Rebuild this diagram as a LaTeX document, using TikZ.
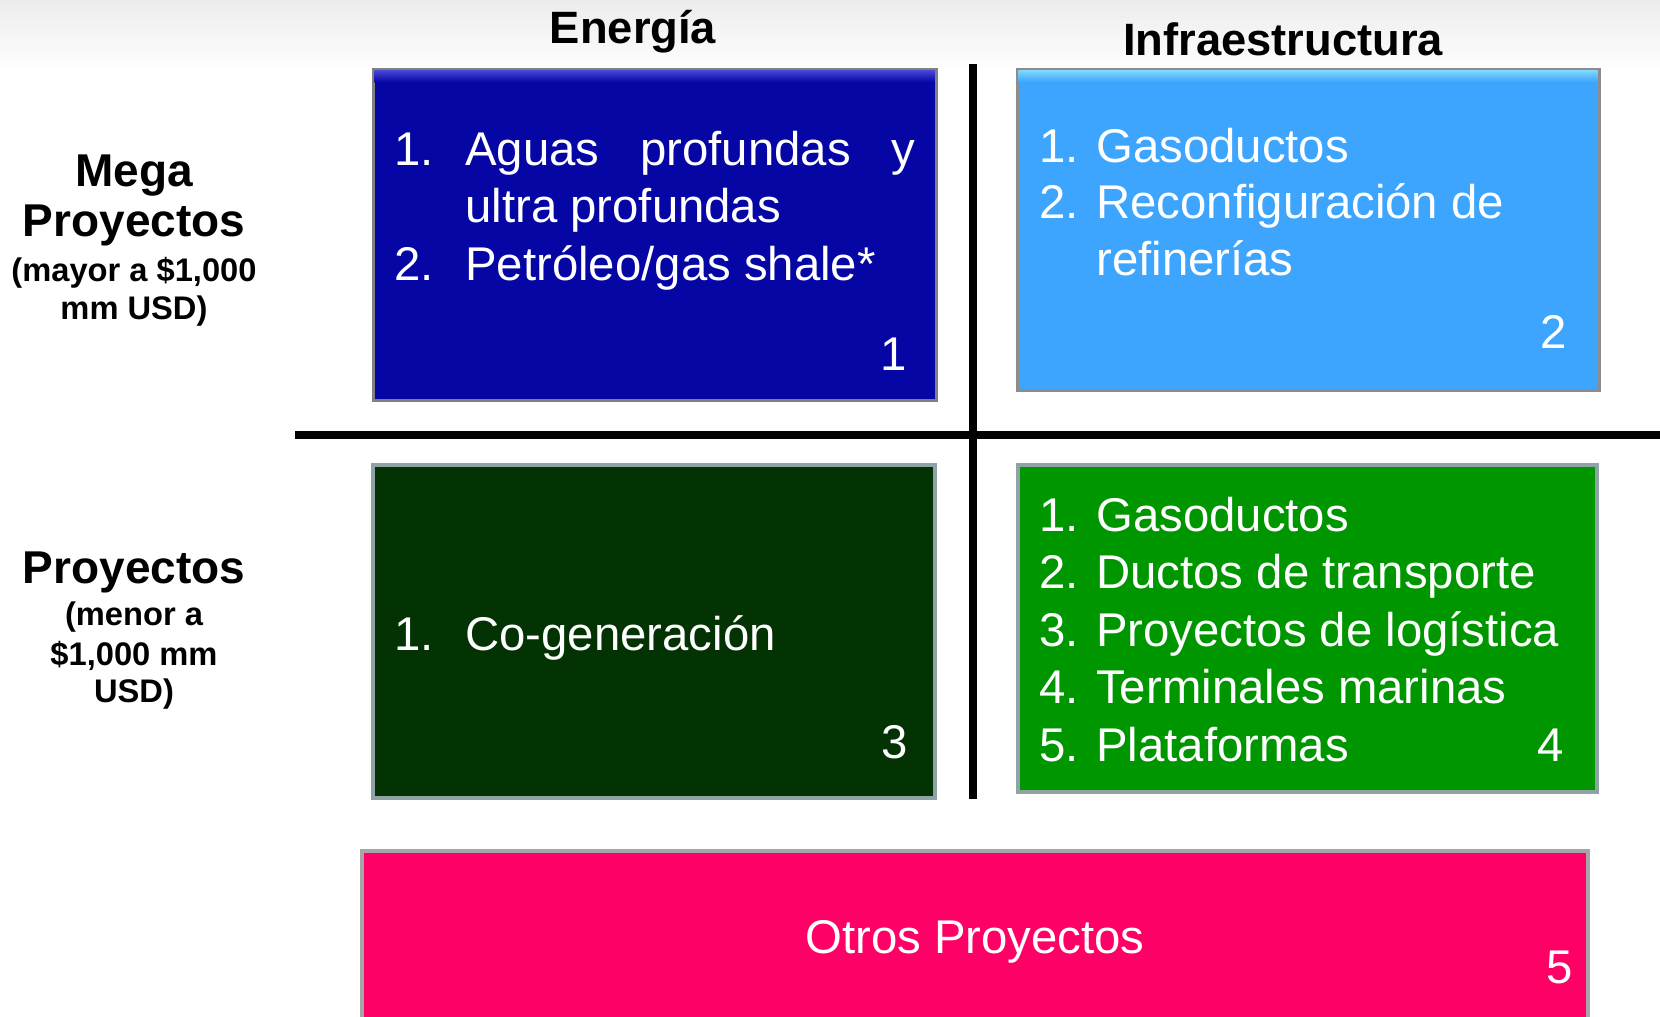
\documentclass[tikz,border=0pt]{standalone}
\usepackage{fontspec}
\setmainfont{Liberation Sans}
\usepackage{tikz}

\begin{document}
\begin{tikzpicture}[x=0.75pt,y=0.75pt,yscale=-1,xscale=1,
  boxtxt/.style={anchor=base west,inner sep=0pt,text=white,font=\fontsize{35.5}{43.5}\selectfont},
  boxnum/.style={anchor=base,inner sep=0pt,text=white,font=\fontsize{35.5}{43.5}\selectfont},
  headtxt/.style={anchor=base,inner sep=0pt,font=\bfseries\fontsize{34}{40}\selectfont},
  sidetxt/.style={anchor=base,inner sep=0pt,font=\bfseries\fontsize{34.5}{36}\selectfont},
  smalltxt/.style={anchor=base,inner sep=0pt,font=\bfseries\fontsize{24.5}{28}\selectfont}]
\useasboundingbox (0,0) rectangle (1660,1017);
\shade [top color={rgb, 255:red, 236; green, 236; blue, 236 }, bottom color=white] (0,0) rectangle (1660,72);
% boxes
\draw [draw={rgb, 255:red, 128; green, 128; blue, 128 }, line width=2.25, fill={rgb, 255:red, 6; green, 6; blue, 164 }] (373,69) -- (936,69) -- (936,400) -- (373,400) -- cycle ;
\shade [top color={rgb, 255:red, 70; green, 70; blue, 215 }, bottom color={rgb, 255:red, 6; green, 6; blue, 164 }] (374.5,70.5) rectangle (934.5,82);
\draw [draw={rgb, 255:red, 140; green, 140; blue, 140 }, line width=2.25, fill={rgb, 255:red, 61; green, 165; blue, 253 }] (1017,69) -- (1599,69) -- (1599,390) -- (1017,390) -- cycle ;
\shade [top color={rgb, 255:red, 125; green, 215; blue, 255 }, bottom color={rgb, 255:red, 61; green, 165; blue, 253 }] (1018.5,70.5) rectangle (1597.5,82);
\draw [draw={rgb, 255:red, 143; green, 163; blue, 165 }, line width=3.5, fill={rgb, 255:red, 3; green, 51; blue, 3 }] (373,465) -- (935,465) -- (935,798) -- (373,798) -- cycle ;
\draw [draw={rgb, 255:red, 143; green, 163; blue, 165 }, line width=3.5, fill={rgb, 255:red, 0; green, 150; blue, 0 }] (1018,465) -- (1597,465) -- (1597,792) -- (1018,792) -- cycle ;
\draw [draw={rgb, 255:red, 166; green, 166; blue, 166 }, line width=3, fill={rgb, 255:red, 255; green, 0; blue, 102 }] (362,851) -- (1588,851) -- (1588,1030) -- (362,1030) -- cycle ;
% cross
\draw [line width=6] (973,64) -- (973,799) ;
\draw [line width=6] (295,435) -- (1660,435) ;
% headers
\draw (633,43) node [headtxt] (energia) {Energía};
\draw (1283,55) node [headtxt] (infra) {Infraestructura};
\draw (134,186) node [sidetxt] (mega) {Mega};
\draw (134,236) node [sidetxt] (megaproy) {Proyectos};
\draw (134,281) node [smalltxt] (mayor) {(mayor a \$1,000};
\draw (134,319) node [smalltxt] (mayorusd) {mm USD)};
\draw (134,583) node [sidetxt] (proy) {Proyectos};
\draw (134,625) node [smalltxt] (menor) {(menor a};
\draw (134,665) node [smalltxt] (menormm) {\$1,000 mm};
\draw (134,702) node [smalltxt] (menorusd) {USD)};
% box 1
\draw (394,165) node [boxtxt] (ba1) {1.};
\draw (465,165) node [boxtxt] (ba1t) {\makebox[337.5pt][s]{Aguas profundas y}};
\draw (465,222) node [boxtxt] (ba1u) {ultra profundas};
\draw (394,280) node [boxtxt] (ba2) {2.};
\draw (465,280) node [boxtxt] (ba2t) {Petróleo/gas shale*};
\draw (894,370) node [boxnum] (na) {1};
% box 2
\draw (1039,162) node [boxtxt] (bb1) {1.};
\draw (1096,162) node [boxtxt] (bb1t) {Gasoductos};
\draw (1039,218) node [boxtxt] (bb2) {2.};
\draw (1096,218) node [boxtxt] (bb2t) {Reconfiguración de};
\draw (1096,275) node [boxtxt] (bb2u) {refinerías};
\draw (1554,348) node [boxnum] (nb) {2};
% box 3
\draw (394,650) node [boxtxt] (bc1) {1.};
\draw (465,650) node [boxtxt] (bc1t) {Co-generación};
\draw (895,758) node [boxnum] (nc) {3};
% box 4
\draw (1039,531) node [boxtxt] (bd1) {1.};
\draw (1096,531) node [boxtxt] (bd1t) {Gasoductos};
\draw (1039,588) node [boxtxt] (bd2) {2.};
\draw (1096,588) node [boxtxt] (bd2t) {Ductos de transporte};
\draw (1039,646) node [boxtxt] (bd3) {3.};
\draw (1096,646) node [boxtxt] (bd3t) {Proyectos de logística};
\draw (1039,703) node [boxtxt] (bd4) {4.};
\draw (1096,703) node [boxtxt] (bd4t) {Terminales marinas};
\draw (1039,761) node [boxtxt] (bd5) {5.};
\draw (1096,761) node [boxtxt] (bd5t) {Plataformas};
\draw (1551,761) node [boxnum] (nd) {4};
% box 5
\draw (975,953) node [boxnum] (otros) {Otros Proyectos};
\draw (1560,983) node [boxnum] (ne) {5};
\end{tikzpicture}
\end{document}
